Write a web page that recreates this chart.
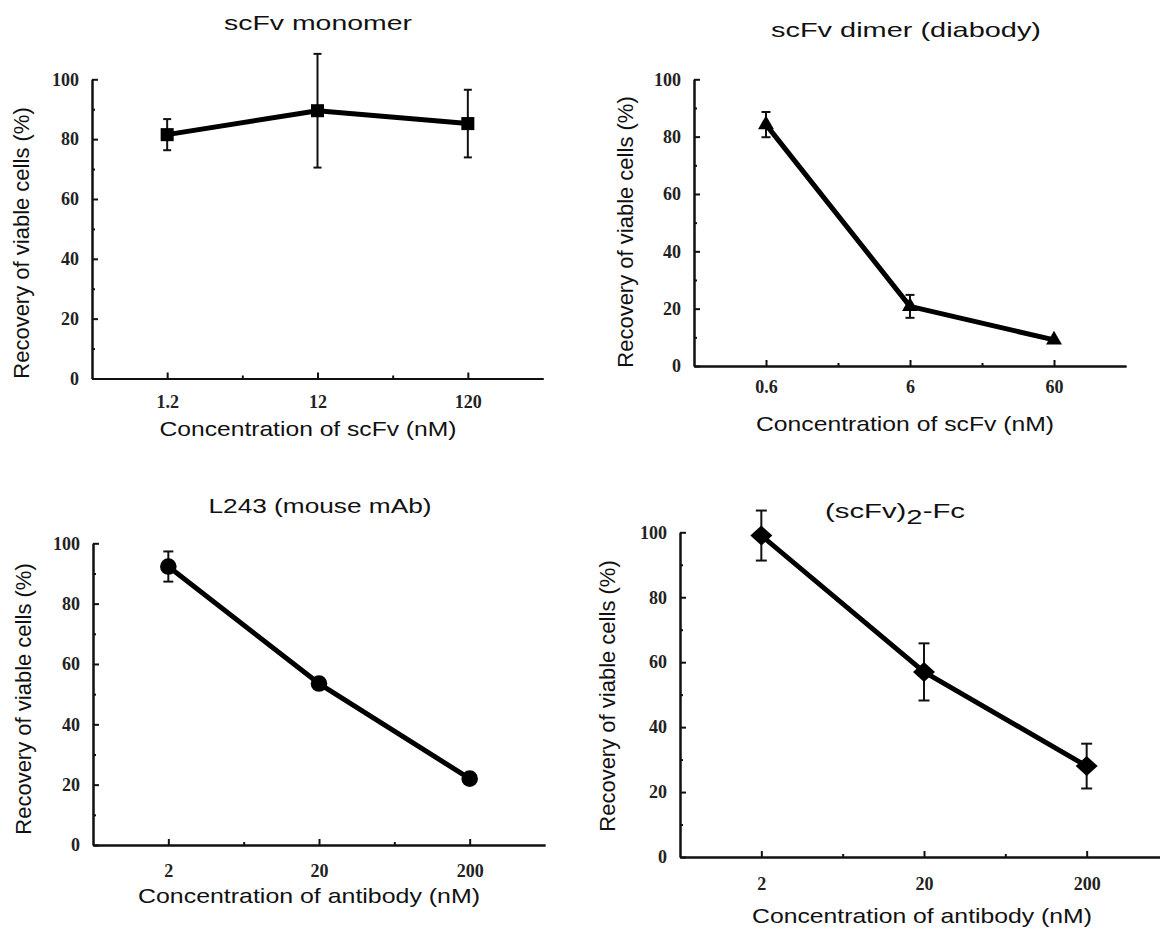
<!DOCTYPE html>
<html>
<head>
<meta charset="utf-8">
<script src="https://cdn.jsdelivr.net/npm/d3@7"></script>
<style>
  body { margin: 0; background: #fff; }
  .tick text { font-family: "Liberation Serif", serif; font-weight: bold; font-size: 18px; fill: #222; }
  .label { font-family: "Liberation Sans", Arial, sans-serif; font-size: 21px; fill: #111; }
  .ylabel { font-family: "Liberation Sans", Arial, sans-serif; font-size: 22px; fill: #111; }
  .title { font-family: "Liberation Sans", Arial, sans-serif; font-size: 21px; fill: #111; }
</style>
</head>
<body>
<div id="chart"></div>
<script>
// Data (recovery of viable cells, %)
const yTicks = [0, 20, 40, 60, 80, 100];
const yMinorTicks = [10, 30, 50, 70, 90];

const monomerConc = [1.2, 12, 120];
const monomerMean = [81.5, 89.5, 85.2];
const monomerErr = [5.2, 19, 11.3];

const diabodyConc = [0.6, 6, 60];
const diabodyMean = [84.2, 20.8, 9.1];
const diabodyErr = [4.4, 4, 0];

const l243Conc = [2, 20, 200];
const l243Mean = [92.3, 53.5, 22];
const l243Err = [5, 0, 0];

const fcConc = [2, 20, 200];
const fcMean = [99, 57, 28];
const fcErr = [7.7, 8.8, 6.9];

let svg = d3
  .select("#chart")
  .append("svg")
  .attr("width", 1160)
  .attr("height", 931);

function drawPanel(p) {
  let conc = p.conc;
  let half = Math.sqrt(10);

  // Set scale
  let xScale = d3
    .scaleLog()
    .domain([conc[0] / half, conc[conc.length - 1] * half])
    .range([p.left, p.right]);
  let yScale = d3
    .scaleLinear()
    .domain([0, 100])
    .range([p.bottom, p.top]);

  // minor ticks sit half a decade between the labelled ones
  let xMinor = [];
  for (let i = 0; i < conc.length - 1; i++) {
    xMinor.push(Math.sqrt(conc[i] * conc[i + 1]));
  }

  let g = svg.append("g");

  // X axis
  g.append("g")
    .attr("transform", `translate(0, ${p.bottom})`)
    .call(
      d3
        .axisBottom(xScale)
        .tickValues(conc)
        .tickFormat(d => String(d))
        .tickSize(-6)
        .tickSizeOuter(0)
        .tickPadding(p.xPad)
    );
  g.append("g")
    .attr("transform", `translate(0, ${p.bottom})`)
    .call(
      d3
        .axisBottom(xScale)
        .tickValues(xMinor)
        .tickFormat("")
        .tickSize(-3)
        .tickSizeOuter(0)
    );

  // Y axis
  g.append("g")
    .attr("transform", `translate(${p.left}, 0)`)
    .call(
      d3
        .axisLeft(yScale)
        .tickValues(yTicks)
        .tickSize(-6)
        .tickSizeOuter(0)
        .tickPadding(13)
    );
  g.append("g")
    .attr("transform", `translate(${p.left}, 0)`)
    .call(
      d3
        .axisLeft(yScale)
        .tickValues(yMinorTicks)
        .tickFormat("")
        .tickSize(-3)
        .tickSizeOuter(0)
    );

  g.selectAll(".domain, .tick line")
    .attr("stroke", "#111")
    .attr("stroke-width", 2);

  // Titles and axis labels (the original lettering is wide, so widths are fixed)
  let title = g
    .append("text")
    .attr("class", "title")
    .attr("x", p.titleX)
    .attr("y", p.titleY)
    .attr("textLength", p.titleW)
    .attr("lengthAdjust", "spacingAndGlyphs")
    .style("text-anchor", "middle");
  p.title.forEach(part => {
    let t = title.append("tspan").text(part.text);
    if (part.sub) t.attr("dy", 6);
    if (part.after) t.attr("dy", -6);
  });

  g.append("text")
    .attr("class", "label")
    .attr("x", p.xLabelX)
    .attr("y", p.xLabelY)
    .attr("textLength", p.xLabelW)
    .attr("lengthAdjust", "spacingAndGlyphs")
    .style("text-anchor", "middle")
    .text(p.xLabel);

  g.append("text")
    .attr("class", "ylabel")
    .attr("transform", `translate(${p.yLabelX}, ${p.yLabelY}) rotate(-90)`)
    .style("text-anchor", "middle")
    .text("Recovery of viable cells (%)");

  let idx = Array.from(Array(conc.length).keys());

  // Error bars
  let bars = g.append("g").attr("stroke", "#111").attr("stroke-width", 2);
  idx
    .filter(i => p.err[i] > 0)
    .forEach(i => {
      let x = xScale(conc[i]);
      let y0 = yScale(p.mean[i] - p.err[i]);
      let y1 = yScale(p.mean[i] + p.err[i]);
      bars.append("line").attr("x1", x).attr("x2", x).attr("y1", y0).attr("y2", y1);
      bars.append("line").attr("x1", x - p.cap).attr("x2", x + p.cap).attr("y1", y0).attr("y2", y0);
      bars.append("line").attr("x1", x - p.cap).attr("x2", x + p.cap).attr("y1", y1).attr("y2", y1);
    });

  // Line
  let line = d3
    .line()
    .x(i => xScale(conc[i]))
    .y(i => yScale(p.mean[i]));
  g.append("path")
    .datum(idx)
    .attr("d", line)
    .attr("fill", "none")
    .attr("stroke", "#000")
    .attr("stroke-width", 5)
    .attr("stroke-linejoin", "round");

  // Markers
  let symbolGenerator = d3.symbol();
  g.append("g")
    .selectAll("path")
    .data(idx)
    .enter()
    .append("path")
    .attr("transform", i => `translate(${xScale(conc[i])}, ${yScale(p.mean[i])}) ${p.markerTransform || ""}`)
    .attr("d", symbolGenerator.type(p.symbol).size(p.symbolSize))
    .attr("fill", "#000");
}

drawPanel({
  conc: monomerConc, mean: monomerMean, err: monomerErr, cap: 4,
  left: 92, right: 543, top: 79.3, bottom: 378.5, xPad: 17,
  symbol: d3.symbolSquare, symbolSize: 170,
  title: [{ text: "scFv monomer" }], titleX: 318, titleY: 30, titleW: 188,
  xLabel: "Concentration of scFv (nM)", xLabelX: 308, xLabelY: 436, xLabelW: 297,
  yLabelX: 29, yLabelY: 243
});

drawPanel({
  conc: diabodyConc, mean: diabodyMean, err: diabodyErr, cap: 4.5,
  left: 694, right: 1126, top: 79.3, bottom: 366, xPad: 14,
  symbol: d3.symbolTriangle, symbolSize: 110,
  title: [{ text: "scFv dimer (diabody)" }], titleX: 906, titleY: 37, titleW: 270,
  xLabel: "Concentration of scFv (nM)", xLabelX: 905, xLabelY: 431, xLabelW: 298,
  yLabelX: 633, yLabelY: 232
});

drawPanel({
  conc: l243Conc, mean: l243Mean, err: l243Err, cap: 5,
  left: 93, right: 545, top: 543.3, bottom: 845, xPad: 19,
  symbol: d3.symbolCircle, symbolSize: 215,
  title: [{ text: "L243 (mouse mAb)" }], titleX: 320, titleY: 513, titleW: 223,
  xLabel: "Concentration of antibody (nM)", xLabelX: 309, xLabelY: 903, xLabelW: 342,
  yLabelX: 31, yLabelY: 699
});

drawPanel({
  conc: fcConc, mean: fcMean, err: fcErr, cap: 5.5,
  left: 680, right: 1168, top: 532.3, bottom: 857, xPad: 20,
  symbol: d3.symbolSquare, symbolSize: 200, markerTransform: "scale(1.1, 1) rotate(45)",
  title: [{ text: "(scFv)" }, { text: "2", sub: true }, { text: "-Fc", after: true }],
  titleX: 895, titleY: 518, titleW: 140,
  xLabel: "Concentration of antibody (nM)", xLabelX: 922, xLabelY: 923, xLabelW: 340,
  yLabelX: 615, yLabelY: 696
});
</script>
</body>
</html>
